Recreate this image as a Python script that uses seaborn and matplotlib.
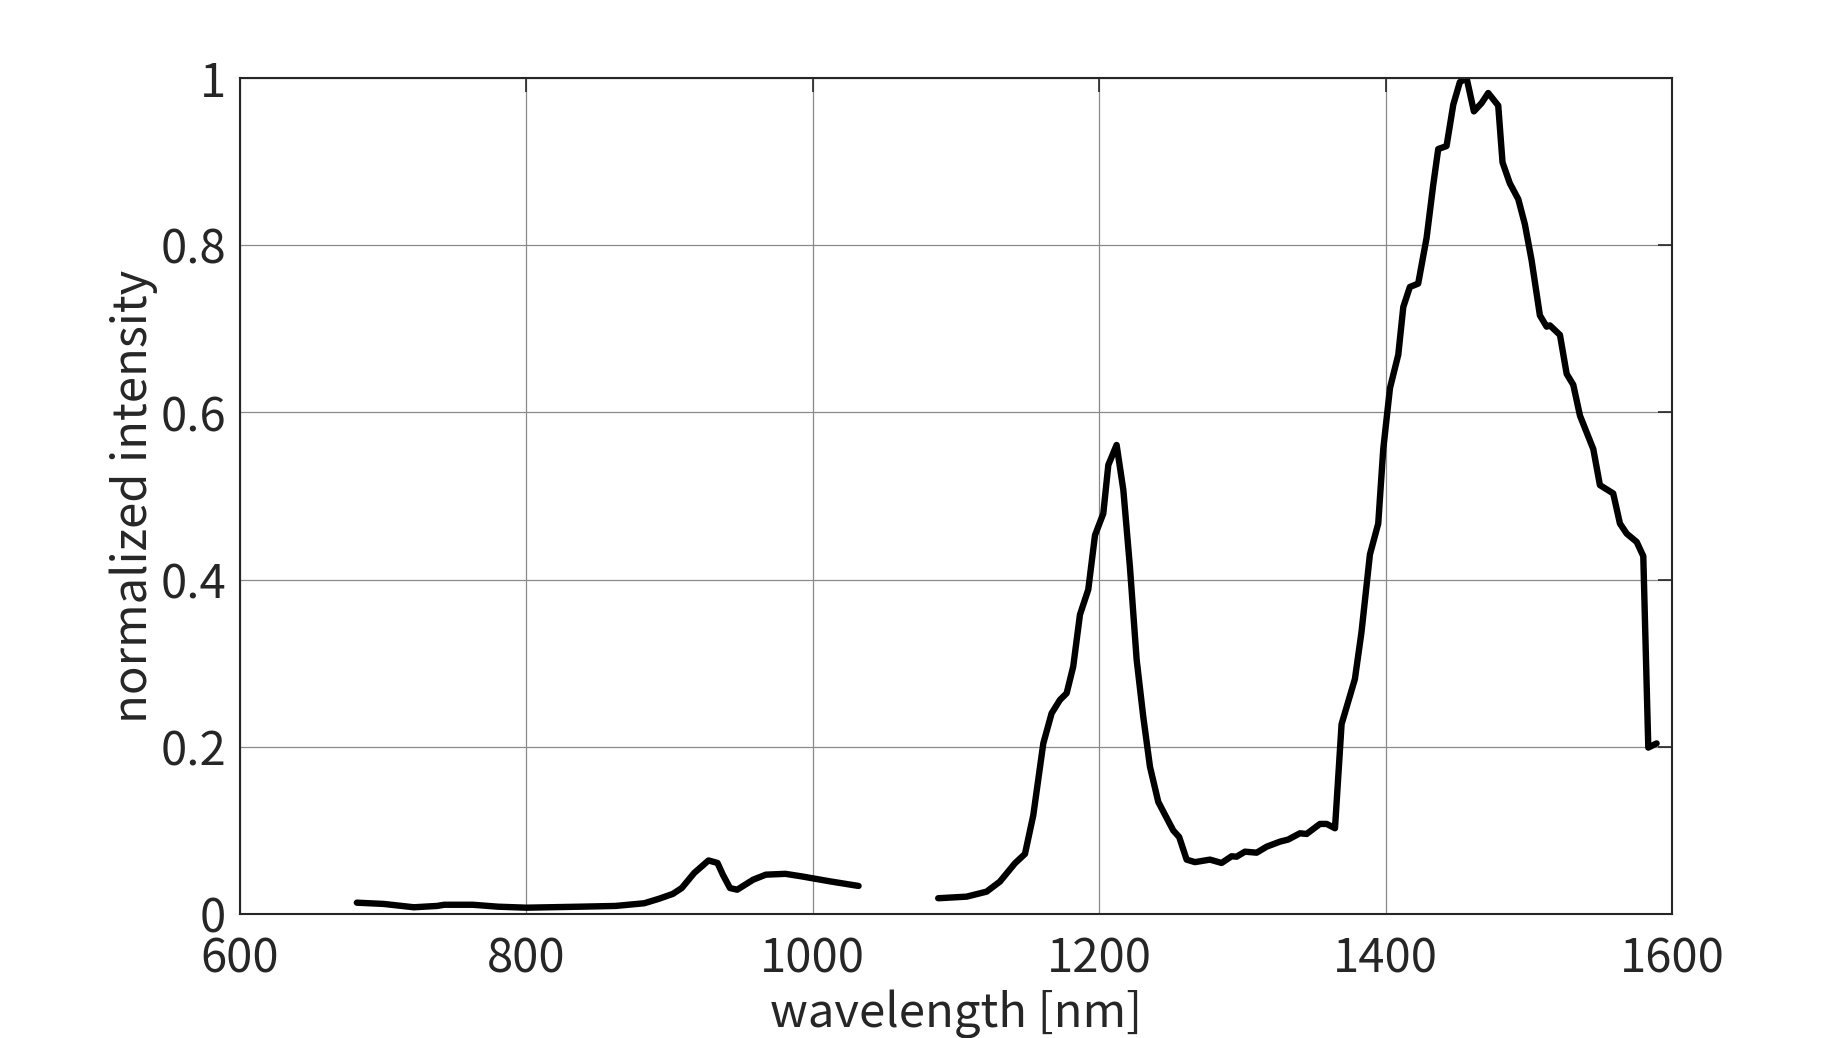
import seaborn as sns
import matplotlib.pyplot as plt
import pandas as pd

# visible/NIR part of the spectrum
wl_vis = [681.6, 700.3, 721.4, 737.7, 742.7, 762.6, 780.1, 800.0, 837.4, 862.4,
          882.3, 892.3, 902.3, 908.5, 917.2, 927.2, 933.5, 937.2, 942.2, 947.2,
          958.4, 967.2, 980.9, 992.1, 1012.0, 1032.0]
int_vis = [0.0135, 0.012, 0.008, 0.0096, 0.011, 0.011, 0.0087, 0.0075, 0.0087, 0.0096,
           0.0128, 0.018, 0.024, 0.031, 0.049, 0.064, 0.061, 0.047, 0.031, 0.029,
           0.041, 0.047, 0.048, 0.045, 0.039, 0.0335]

# infrared part of the spectrum
wl_ir = [1087.6, 1107.4, 1121.4, 1130.7, 1141.2, 1148.2, 1154.0, 1161.0, 1166.8, 1172.6,
         1177.3, 1181.9, 1186.6, 1192.4, 1197.1, 1202.9, 1206.4, 1212.2, 1216.9, 1221.5,
         1226.2, 1230.8, 1235.5, 1241.3, 1251.7, 1255.9, 1261.1, 1266.9, 1277.4, 1285.5,
         1292.5, 1296.0, 1301.8, 1310.0, 1317.0, 1326.3, 1332.0, 1340.2, 1344.9, 1354.2,
         1358.9, 1364.7, 1369.3, 1378.6, 1383.2, 1389.1, 1394.9, 1398.4, 1403.1, 1408.9,
         1412.4, 1417.0, 1422.8, 1428.7, 1433.3, 1436.8, 1442.6, 1447.3, 1451.9, 1456.6,
         1461.7, 1467.1, 1471.7, 1478.7, 1481.7, 1486.8, 1492.7, 1497.3, 1502.0, 1507.8,
         1512.5, 1514.8, 1521.8, 1526.5, 1531.1, 1535.8, 1545.1, 1549.7, 1559.0, 1563.7,
         1568.4, 1575.4, 1580.0, 1583.5, 1589.3]
int_ir = [0.0188, 0.0207, 0.0267, 0.0387, 0.0606, 0.0718, 0.118, 0.204, 0.240, 0.256,
          0.264, 0.296, 0.358, 0.388, 0.453, 0.479, 0.537, 0.561, 0.507, 0.415,
          0.304, 0.236, 0.176, 0.134, 0.100, 0.092, 0.065, 0.062, 0.065, 0.061,
          0.069, 0.0685, 0.0745, 0.0733, 0.0805, 0.0865, 0.089, 0.0965, 0.0957, 0.1077,
          0.1077, 0.1025, 0.227, 0.281, 0.337, 0.430, 0.467, 0.556, 0.629, 0.669,
          0.726, 0.750, 0.754, 0.809, 0.872, 0.915, 0.9185, 0.968, 0.995, 1.0,
          0.960, 0.970, 0.982, 0.967, 0.899, 0.874, 0.855, 0.825, 0.782, 0.716,
          0.7025, 0.704, 0.6926, 0.646, 0.633, 0.596, 0.556, 0.513, 0.503, 0.467,
          0.455, 0.445, 0.428, 0.199, 0.204]

xticks = [600, 800, 1000, 1200, 1400, 1600]
yticks = [0, 0.2, 0.4, 0.6, 0.8, 1]
ytick_labels = ["0", "0.2", "0.4", "0.6", "0.8", "1"]

sns.set_style("white")
plt.rcParams['font.family'] = ['Noto Sans CJK JP', 'DejaVu Sans']
txt = '#262626'

fig = plt.figure(figsize=(18.46, 10.38), dpi=100)
ax = fig.add_axes([0.13, 0.1195, 0.7757, 0.8054])

vis = pd.DataFrame({"wavelength": wl_vis, "intensity": int_vis})
ir = pd.DataFrame({"wavelength": wl_ir, "intensity": int_ir})
sns.lineplot(data=vis, x="wavelength", y="intensity", color="black", linewidth=4.6, ax=ax)
sns.lineplot(data=ir, x="wavelength", y="intensity", color="black", linewidth=4.6, ax=ax)

ax.set_xlim(600, 1600)
ax.set_ylim(0, 1)
ax.set_xticks(xticks)
ax.set_xticklabels([str(t) for t in xticks])
ax.set_yticks(yticks)
ax.set_yticklabels(ytick_labels)
ax.grid(True, color='#8a8a8a', linewidth=0.9)
ax.set_axisbelow(True)
ax.tick_params(direction='in', length=10, width=1.2, colors=txt, labelsize=34,
               top=True, right=True)
ax.tick_params(axis='x', pad=15)
ax.tick_params(axis='y', pad=10)
for s in ax.spines.values():
    s.set_color(txt)
    s.set_linewidth(1.5)
ax.set_xlabel("wavelength [nm]", fontsize=34, color=txt, labelpad=5)
ax.set_ylabel("normalized intensity", fontsize=34, color=txt, labelpad=2)

plt.savefig('out.png', dpi=100)
